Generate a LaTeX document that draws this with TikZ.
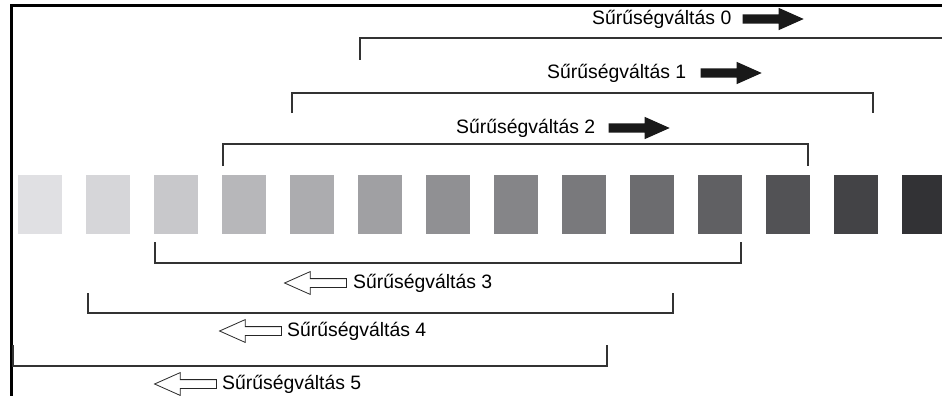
\documentclass[tikz,border=0pt]{standalone}
\usepackage{fontspec}
\setmainfont{Liberation Sans}
\usetikzlibrary{positioning,shapes.arrows}

\tikzset{
    bracket/.style={line width=1.2pt, draw=black!80},
    lbl/.style={inner sep=0pt, anchor=west, font=\fontsize{19.4pt}{23pt}\selectfont},
    fwd/.style={single arrow, fill=black!90, draw=none, inner sep=4.5pt,
        single arrow head extend=6.5pt, single arrow tip angle=48,
        minimum height=61pt},
    back/.style={single arrow, shape border rotate=180, fill=white, draw=black!85,
        line width=0.8pt, inner sep=4pt, single arrow head extend=7pt,
        single arrow tip angle=48, minimum height=62pt},
    bar/.style={inner sep=0pt, minimum width=44pt, minimum height=59pt, anchor=north west}
}

\begin{document}
\begin{tikzpicture}[x=1pt,y=-1pt]
    \useasboundingbox (0,0) rectangle (942,396);
    \draw[line width=3pt] (11,396) -- (11,5.5) -- (942,5.5);  % frame
    % the grey steps
    \foreach \i/\g in {0/224,1/214,2/200,3/183,4/172,5/160,6/144,
                       7/133,8/121,9/108,10/96,11/82,12/67,13/50} {
        \pgfmathtruncatemacro\b{\g+3}
        \definecolor{barfill}{RGB}{\g,\g,\b}
        \node[bar, fill=barfill] (bar\i) at (18+68*\i,175) {};
    }
    % upper shifts
    \draw[bracket] (360,60) |- (942,38);
    \draw[bracket] (292,113) |- (873,93) -- (873,113);
    \draw[bracket] (223,166) |- (808,144) -- (808,166);
    \node[lbl] (lbl0) at (592,19) {Sűrűségváltás 0};
    \node[lbl] (lbl1) at (547,73) {Sűrűségváltás 1};
    \node[lbl] (lbl2) at (456,128) {Sűrűségváltás 2};
    \node[fwd, right=11pt of lbl0] (arr0) {};
    \node[fwd, right=14pt of lbl1] (arr1) {};
    \node[fwd, right=13pt of lbl2] (arr2) {};
    % lower shifts
    \draw[bracket] (155,242) |- (741,263) -- (741,242);
    \draw[bracket] (88,293) |- (673,313) -- (673,293);
    \draw[bracket] (13,345) |- (607,366) -- (607,345);
    \node[lbl] (lbl3) at (353,283) {Sűrűségváltás 3};
    \node[lbl] (lbl4) at (287,331) {Sűrűségváltás 4};
    \node[lbl] (lbl5) at (222,384) {Sűrűségváltás 5};
    \node[back, left=6pt of lbl3] (arr3) {};
    \node[back, left=5pt of lbl4] (arr4) {};
    \node[back, left=5pt of lbl5] (arr5) {};
\end{tikzpicture}
\end{document}
